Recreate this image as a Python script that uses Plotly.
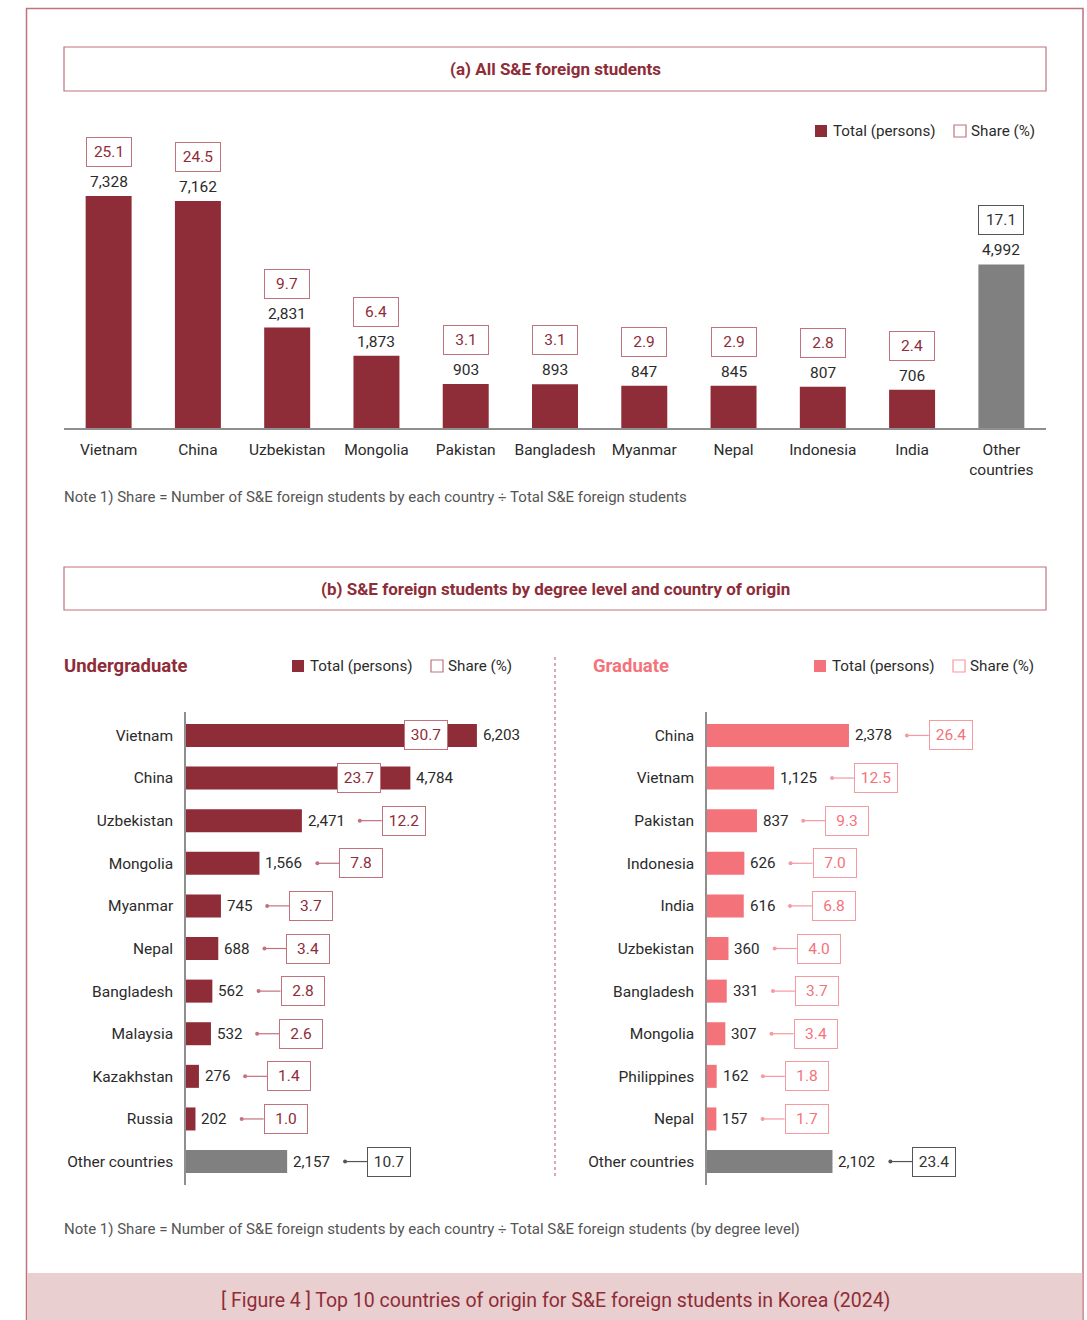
import plotly.graph_objects as go

# ---------------------------------------------------------------- data
all_countries = ["Vietnam", "China", "Uzbekistan", "Mongolia", "Pakistan", "Bangladesh",
                 "Myanmar", "Nepal", "Indonesia", "India", "Other countries"]
all_totals = [7328, 7162, 2831, 1873, 903, 893, 847, 845, 807, 706, 4992]
all_shares = [25.1, 24.5, 9.7, 6.4, 3.1, 3.1, 2.9, 2.9, 2.8, 2.4, 17.1]

ug_countries = ["Vietnam", "China", "Uzbekistan", "Mongolia", "Myanmar", "Nepal",
                "Bangladesh", "Malaysia", "Kazakhstan", "Russia", "Other countries"]
ug_totals = [6203, 4784, 2471, 1566, 745, 688, 562, 532, 276, 202, 2157]
ug_shares = [30.7, 23.7, 12.2, 7.8, 3.7, 3.4, 2.8, 2.6, 1.4, 1.0, 10.7]

gr_countries = ["China", "Vietnam", "Pakistan", "Indonesia", "India", "Uzbekistan",
                "Bangladesh", "Mongolia", "Philippines", "Nepal", "Other countries"]
gr_totals = [2378, 1125, 837, 626, 616, 360, 331, 307, 162, 157, 2102]
gr_shares = [26.4, 12.5, 9.3, 7.0, 6.8, 4.0, 3.7, 3.4, 1.8, 1.7, 23.4]

# ---------------------------------------------------------------- style
W, H = 1087, 1320
FONT = "Roboto, 'Noto Sans', sans-serif"
DARK_RED = "#8e2c38"
RED_LINE = "#c0737d"
PINK = "#f4737b"
PINK_LINE = "#f59aa1"
GRAY_BAR = "#808080"
TEXT = "#2b2b2b"
NOTE = "#555555"
AXIS = "#8f8f8f"
FLOOR = -600          # visual floor of the top bar chart


def px(x):
    return x / W


def py(y):
    return 1 - y / H


def text_w(s):
    return sum(3.3 if c in ",." else 8.4 for c in s)


shapes, annotations = [], []


def note(x, y, text, size=15.5, color=TEXT, xanchor="left", bold=False):
    if xanchor == "left":
        x -= 2  # compensate for the annotation's inner padding
    annotations.append(dict(
        xref="paper", yref="paper", x=px(x), y=py(y), text=f"<b>{text}</b>" if bold else text,
        showarrow=False, xanchor=xanchor, yanchor="middle",
        font=dict(family=FONT, size=size, color=color)))


def rect(x0, y0, x1, y1, line=None, fill=None, lw=1.2):
    shapes.append(dict(type="rect", xref="paper", yref="paper",
                       x0=px(x0), x1=px(x1), y0=py(y0), y1=py(y1),
                       line=dict(color=line or "rgba(0,0,0,0)", width=lw if line else 0),
                       fillcolor=fill or "rgba(0,0,0,0)", layer="below"))


def legend(x, y, fill, outline):
    rect(x, y - 6, x + 12, y + 6, fill=fill)
    note(x + 18, y, "Total (persons)", size=15.2)
    rect(x + 139, y - 6, x + 151, y + 6, line=outline, lw=1.2)
    note(x + 156, y, "Share (%)", size=15.2)


# page frame, title boxes, footer
rect(26.5, 8.5, 1083, 1340, line=RED_LINE, lw=1.5)
rect(64, 47, 1046, 91, line=RED_LINE, lw=1.2)
rect(64, 567, 1046, 610, line=RED_LINE, lw=1.2)
rect(27, 1273, 1082.3, 1320, fill="#e9cfcf")
note(555, 69, "(a) All S&E foreign students", size=17, color=DARK_RED, xanchor="center", bold=True)
note(555, 589, "(b) S&E foreign students by degree level and country of origin",
     size=17, color=DARK_RED, xanchor="center", bold=True)
note(555, 1300, "[ Figure 4 ] Top 10 countries of origin for S&E foreign students in Korea (2024)",
     size=19.5, color=DARK_RED, xanchor="center")

note(64, 497, "Note 1) Share = Number of S&E foreign students by each country ÷ Total S&E foreign students",
     size=15, color=NOTE)
note(64, 1229, "Note 1) Share = Number of S&E foreign students by each country ÷ Total S&E foreign "
     "students (by degree level)", size=15, color=NOTE)

legend(815, 131, DARK_RED, RED_LINE)
legend(292, 666, DARK_RED, RED_LINE)
legend(814, 666, PINK, PINK_LINE)
note(64, 666, "Undergraduate", size=18.5, color=DARK_RED, bold=True)
note(593, 666, "Graduate", size=18.5, color=PINK, bold=True)

# dotted divider between the two degree panels
shapes.append(dict(type="line", xref="paper", yref="paper", x0=px(555), x1=px(555),
                   y0=py(657), y1=py(1177), line=dict(color=RED_LINE, width=1.2, dash="dot")))

fig = go.Figure()

# ---------------------------------------------------------------- (a) vertical bars
top_colors = [DARK_RED] * (len(all_countries) - 1) + [GRAY_BAR]
fig.add_trace(go.Bar(
    x=all_countries, y=[v - FLOOR for v in all_totals], base=FLOOR,
    marker=dict(color=top_colors, line=dict(width=0)),
    xaxis="x", yaxis="y", hoverinfo="skip"))

for i, (c, v, s) in enumerate(zip(all_countries, all_totals, all_shares)):
    last = i == len(all_countries) - 1
    annotations.append(dict(xref="x", yref="y", x=c, y=v, text=f"{v:,}", showarrow=False,
                            yanchor="bottom", yshift=3, font=dict(family=FONT, size=15.5, color=TEXT)))
    annotations.append(dict(xref="x", yref="y", x=c, y=v, text=f"{s:.1f}", showarrow=False,
                            yanchor="bottom", yshift=29, width=44, height=28, borderpad=0,
                            bordercolor="#555555" if last else RED_LINE, borderwidth=1,
                            bgcolor="white",
                            font=dict(family=FONT, size=15.5, color="#333333" if last else DARK_RED)))


# ---------------------------------------------------------------- (b) horizontal bars
def degree_panel(countries, totals, shares, color, line_color, xa, ya, px_per_unit):
    n = len(countries)
    colors = [color] * (n - 1) + [GRAY_BAR]
    fig.add_trace(go.Bar(
        y=countries, x=totals, orientation="h",
        marker=dict(color=colors, line=dict(width=0)),
        xaxis=xa, yaxis=ya, hoverinfo="skip"))
    xr, yr = xa, ya
    for i, (v, s) in enumerate(zip(totals, shares)):
        last = i == n - 1
        label = f"{v:,}"
        annotations.append(dict(xref=xr, yref=yr, x=v, y=i, text=label, showarrow=False,
                                xanchor="left", xshift=4,
                                font=dict(family=FONT, size=15.2, color=TEXT)))
        box_line = "#555555" if last else line_color
        box_text = "#333333" if last else (DARK_RED if color == DARK_RED else PINK)
        share_box = dict(xref=xr, yref=yr, x=v, y=i, text=f"{s:.1f}", showarrow=False,
                         width=42, height=28, borderpad=0, borderwidth=1,
                         bordercolor=box_line, bgcolor="white",
                         font=dict(family=FONT, size=15.5, color=box_text))
        if v * px_per_unit > 180:
            # long bars carry the share box inside, near the bar end
            share_box.update(xanchor="right", xshift=-29)
        else:
            w = text_w(label)
            d0, d1 = 6 + w + 15, 6 + w + 37
            share_box.update(xanchor="left", xshift=d1)
            conn = "#555555" if last else line_color
            shapes.append(dict(type="line", xref=xr, yref=yr, xsizemode="pixel", xanchor=v,
                               x0=d0, x1=d1, y0=i, y1=i, line=dict(color=conn, width=1.2)))
            shapes.append(dict(type="circle", xref=xr, yref=yr, xsizemode="pixel",
                               ysizemode="pixel", xanchor=v, yanchor=i,
                               x0=d0 - 2, x1=d0 + 2, y0=-2, y1=2,
                               fillcolor=conn, line=dict(width=0)))
        annotations.append(share_box)


UG_SCALE = 0.0469
GR_SCALE = 0.0597
degree_panel(ug_countries, ug_totals, ug_shares, DARK_RED, RED_LINE, "x2", "y2", UG_SCALE)
degree_panel(gr_countries, gr_totals, gr_shares, PINK, PINK_LINE, "x3", "y3", GR_SCALE)

cat_axis = dict(type="category", showline=True, linecolor=AXIS, linewidth=1.5, showgrid=False,
                zeroline=False, ticks="", ticklabelstandoff=8, range=[10.55, -0.55],
                tickfont=dict(family=FONT, size=15.5, color=TEXT), fixedrange=True)

fig.update_layout(
    width=W, height=H, margin=dict(l=0, r=0, t=0, b=0),
    paper_bgcolor="white", plot_bgcolor="rgba(0,0,0,0)",
    showlegend=False, bargap=0.485,
    font=dict(family=FONT, color=TEXT),
    xaxis=dict(domain=[px(64), px(1046)], anchor="y", type="category",
               showline=True, linecolor=AXIS, linewidth=2, ticks="", ticklabelstandoff=6,
               tickfont=dict(family=FONT, size=15.5, color=TEXT),
               tickvals=all_countries,
               ticktext=[c.replace(" ", "<br>") if c == "Other countries" else c for c in all_countries]),
    yaxis=dict(domain=[py(428), py(130)], anchor="x",
               range=[FLOOR, FLOOR + 298 / 0.02926], visible=False),
    xaxis2=dict(domain=[px(186), px(540)], anchor="y2", range=[0, 354 / UG_SCALE], visible=False),
    yaxis2=dict(domain=[py(1185), py(712)], anchor="x2",
                categoryorder="array", categoryarray=ug_countries, **cat_axis),
    xaxis3=dict(domain=[px(707), px(1046)], anchor="y3", range=[0, 339 / GR_SCALE], visible=False),
    yaxis3=dict(domain=[py(1185), py(712)], anchor="x3",
                categoryorder="array", categoryarray=gr_countries, **cat_axis),
    shapes=shapes, annotations=annotations,
)
fig.update_traces(selector=dict(orientation="h"), width=0.54)

fig.write_html("out.html")
